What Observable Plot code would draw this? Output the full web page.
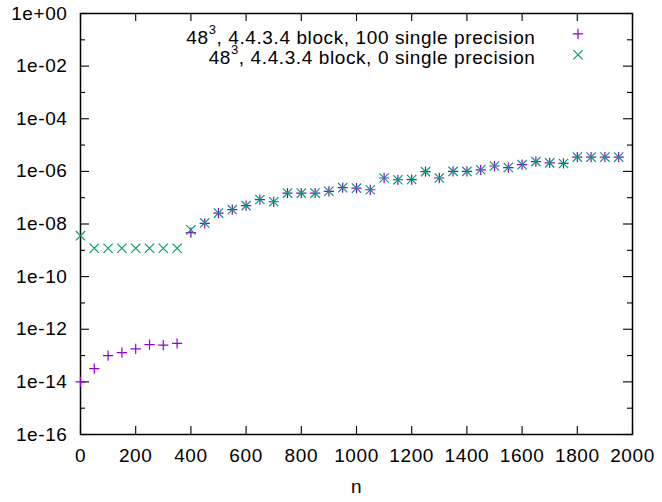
<!DOCTYPE html>
<html><head><meta charset="utf-8">
<script src="https://cdn.jsdelivr.net/npm/d3@7"></script>
<script src="https://cdn.jsdelivr.net/npm/@observablehq/plot@0.6"></script>
<style>body{margin:0;background:#fff}</style>
</head><body><div id="chart"></div>
<script>
const nValues = [0,50,100,150,200,250,300,350,400,450,500,550,600,650,700,750,800,850,900,950,1000,1050,1100,1150,1200,1250,1300,1350,1400,1450,1500,1550,1600,1650,1700,1750,1800,1850,1900,1950];
const single100 = [1.0e-14,3.2e-14,1.0e-13,1.3e-13,1.8e-13,2.6e-13,2.5e-13,2.9e-13,4.7e-9,1.05e-8,2.6e-8,3.5e-8,5.0e-8,8.5e-8,7.0e-8,1.5e-7,1.5e-7,1.5e-7,1.75e-7,2.4e-7,2.3e-7,2.0e-7,5.6e-7,4.8e-7,4.9e-7,9.8e-7,5.6e-7,1.0e-6,1.0e-6,1.15e-6,1.6e-6,1.4e-6,1.8e-6,2.35e-6,2.1e-6,2.0e-6,3.5e-6,3.5e-6,3.5e-6,3.5e-6];
const single0 = [3.6e-9,1.2e-9,1.2e-9,1.2e-9,1.2e-9,1.2e-9,1.2e-9,1.2e-9,6.0e-9,1.1e-8,2.6e-8,3.5e-8,5.0e-8,8.5e-8,7.0e-8,1.5e-7,1.5e-7,1.5e-7,1.75e-7,2.4e-7,2.3e-7,2.0e-7,5.6e-7,4.8e-7,4.9e-7,9.8e-7,5.6e-7,1.0e-6,1.0e-6,1.15e-6,1.6e-6,1.4e-6,1.8e-6,2.35e-6,2.1e-6,2.0e-6,3.5e-6,3.5e-6,3.5e-6,3.5e-6];
const seriesNames = ["48³, 4.4.3.4 block, 100 single precision", "48³, 4.4.3.4 block, 0 single precision"];
const seriesColors = ["#9400D3", "#009E73"];
const seriesSymbols = ["plus", "times"];
const xTicks = [0,200,400,600,800,1000,1200,1400,1600,1800,2000];
const yMajorTicks = [1e0,1e-2,1e-4,1e-6,1e-8,1e-10,1e-12,1e-14,1e-16];
const yTickLabels = ["1e+00","1e-02","1e-04","1e-06","1e-08","1e-10","1e-12","1e-14","1e-16"];
const yMinorTicks = [1e-1,1e-3,1e-5,1e-7,1e-9,1e-11,1e-13,1e-15];
const xLabel = "n";

const W = 662, H = 502, ML = 80, MR = 30, MT = 13, MB = 68;
const PW = W - ML - MR, PH = H - MT - MB;
const FS = 19;

const rows100 = nValues.map((n, i) => ({n, v: single100[i]}));
const rows0 = nValues.map((n, i) => ({n, v: single0[i]}));
const labelMap = new Map(yMajorTicks.map((t, i) => [t, yTickLabels[i]]));

const chart = Plot.plot({
  width: W,
  height: H,
  marginLeft: ML,
  marginRight: MR,
  marginTop: MT,
  marginBottom: MB,
  style: {fontFamily: "'Liberation Sans', Arial, Helvetica, sans-serif", fontSize: FS + "px", background: "white", color: "black", letterSpacing: "0.6px"},
  x: {domain: [0, 2000]},
  y: {type: "log", domain: [1e-16, 1]},
  marks: [
    Plot.axisX(xTicks, {anchor: "bottom", tickSize: 0, tickPadding: 14, fontSize: FS, tickFormat: d => String(d), label: null}),
    Plot.axisY(yMajorTicks, {anchor: "left", tickSize: 0, tickPadding: 13, fontSize: FS, tickFormat: d => labelMap.get(d), label: null}),
    // inward ticks (gnuplot style, mirrored on all sides)
    Plot.tickX(xTicks, {x: d => d, insetTop: PH - 8, stroke: "black", strokeWidth: 1.1}),
    Plot.tickX(xTicks, {x: d => d, insetBottom: PH - 8, stroke: "black", strokeWidth: 1.1}),
    Plot.tickY(yMajorTicks, {y: d => d, insetRight: PW - 9, stroke: "black", strokeWidth: 1.1}),
    Plot.tickY(yMajorTicks, {y: d => d, insetLeft: PW - 9, stroke: "black", strokeWidth: 1.1}),
    Plot.tickY(yMinorTicks, {y: d => d, insetRight: PW - 5, stroke: "black", strokeWidth: 1.1}),
    Plot.tickY(yMinorTicks, {y: d => d, insetLeft: PW - 5, stroke: "black", strokeWidth: 1.1}),
    Plot.frame({stroke: "black", strokeWidth: 1.5}),
    Plot.text([xLabel], {frameAnchor: "bottom", dy: 52, lineAnchor: "middle", fontSize: FS, fill: "black"}),
    Plot.dot(rows100, {x: "n", y: "v", symbol: () => seriesSymbols[0], r: 3.4, stroke: seriesColors[0], strokeWidth: 1.2}),
    Plot.dot(rows0, {x: "n", y: "v", symbol: () => seriesSymbols[1], r: 4.3, stroke: seriesColors[1], strokeWidth: 1.2}),
    Plot.text([seriesNames[0]], {frameAnchor: "top-right", dx: -97, dy: 24.2, textAnchor: "end", lineAnchor: "middle", fontSize: FS, fill: "black", className: "legend-text"}),
    Plot.text([seriesNames[1]], {frameAnchor: "top-right", dx: -97, dy: 44.2, textAnchor: "end", lineAnchor: "middle", fontSize: FS, fill: "black", className: "legend-text"}),
    Plot.dot([0], {frameAnchor: "top-right", dx: -54.5, dy: 20.3, symbol: seriesSymbols[0], r: 3.4, stroke: seriesColors[0], strokeWidth: 1.2}),
    Plot.dot([0], {frameAnchor: "top-right", dx: -54.5, dy: 41.3, symbol: seriesSymbols[1], r: 4.3, stroke: seriesColors[1], strokeWidth: 1.2})
  ]
});
document.getElementById("chart").appendChild(chart);

// render the "³" in legend labels as a raised superscript
chart.querySelectorAll("g.legend-text text").forEach(t => {
  const s = t.textContent;
  const k = s.indexOf("³");
  if (k < 0) return;
  t.textContent = "";
  const ns = "http://www.w3.org/2000/svg";
  const a = document.createElementNS(ns, "tspan"); a.textContent = s.slice(0, k);
  const b = document.createElementNS(ns, "tspan"); b.textContent = "3";
  b.setAttribute("dy", "-10"); b.setAttribute("font-size", "13");
  const c = document.createElementNS(ns, "tspan"); c.textContent = s.slice(k + 1);
  c.setAttribute("dy", "10");
  t.append(a, b, c);
});
</script>
</body></html>
